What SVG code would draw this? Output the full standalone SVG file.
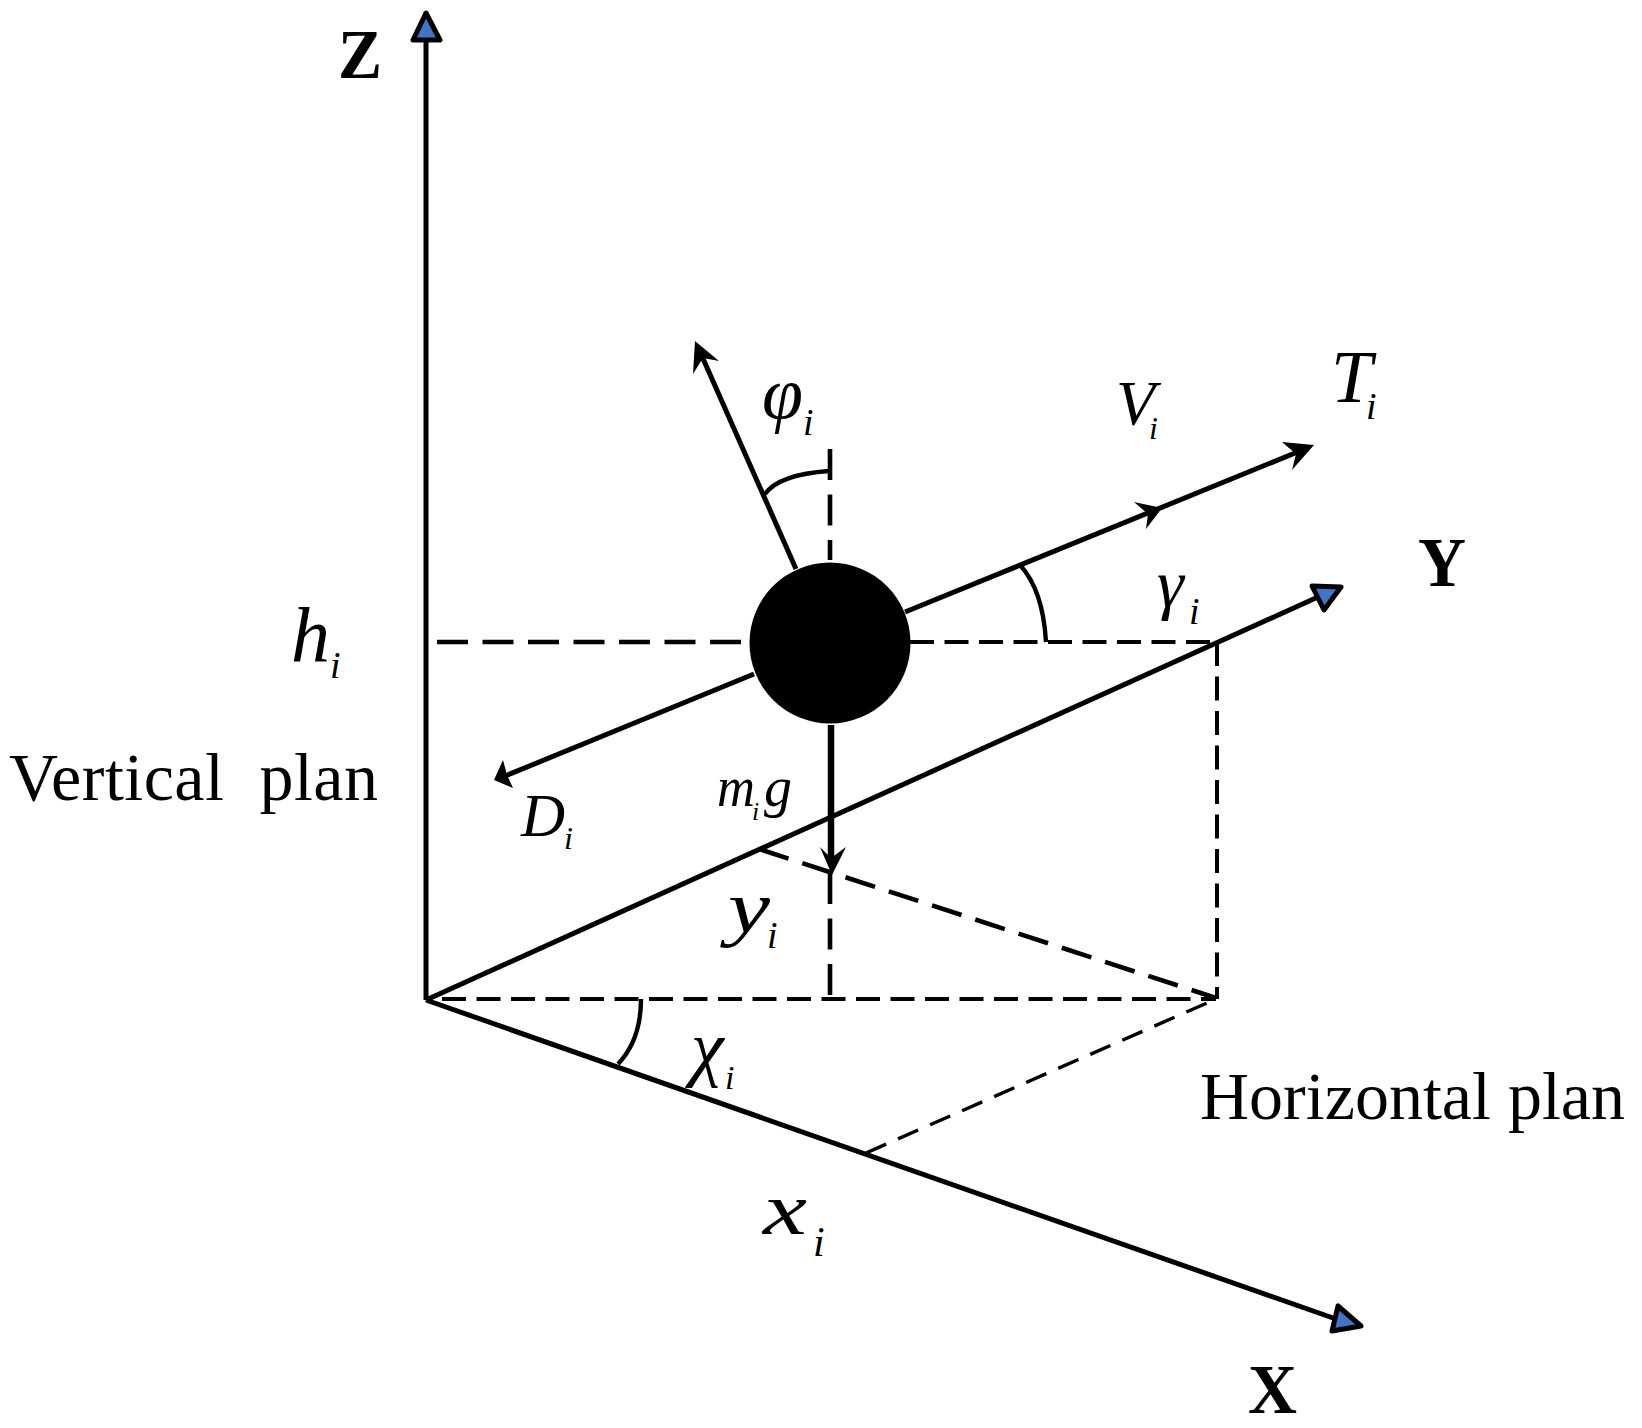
<svg xmlns="http://www.w3.org/2000/svg" width="1642" height="1428" viewBox="0 0 1642 1428">
<style>
.ax{stroke:#000;stroke-width:5;fill:none}
.arc{stroke:#000;stroke-width:4.4;fill:none}
.d1{stroke:#000;stroke-width:4.6;fill:none;stroke-dasharray:31 14.5}
.d2{stroke:#000;stroke-width:4;fill:none;stroke-dasharray:24 10.5}
.d3{stroke:#000;stroke-width:3.4;fill:none;stroke-dasharray:22 13}
.tip{fill:#4472C4;stroke:#000;stroke-width:5;stroke-linejoin:round}
.st{fill:#000;stroke:none}
text{font-family:"Liberation Serif","Times New Roman",serif;fill:#000}
.b{font-weight:bold;font-size:70px}
.i{font-style:italic}
.p{font-size:68px;white-space:pre}
</style>
<rect width="1642" height="1428" fill="#fff"/>
<g id="connectors">
<path class="ax" d="M426 1000V40"/>
<path class="ax" d="M426 1000L1318 597"/>
<path class="ax" d="M426 1000L1336 1319"/>
<path class="ax" d="M905 612L1300 451"/>
<path class="ax" d="M754 674L505 776"/>
<path class="ax" d="M796 569L701 354"/>
<path stroke="#000" stroke-width="6.5" fill="none" d="M831 725L831 860"/>
<path class="d1" d="M437 642H745"/>
<path class="d1" d="M830 449V560"/>
<path class="d1" d="M830 873V998"/>
<path class="d1" d="M759 849L1216 998"/>
<path class="d2" d="M442 999H1216"/>
<path class="d2" d="M910 642H1216"/>
<path class="d2" d="M1217 642V999"/>
<path class="d3" d="M866 1153L1216 999"/>
<path class="arc" d="M765 494C775 480 800 473 829 471"/>
<path class="arc" d="M1020 565Q1043 590 1046 642"/>
<path class="arc" d="M641 999Q641 1040 618 1064"/>
<polygon class="tip" points="426,13 440,40 413,40"/>
<polygon class="tip" points="1341,587 1312,586 1324,610"/>
<polygon class="tip" points="1361,1326 1338,1306 1332,1331"/>
<polygon class="st" points="1314,445 1282,442 1296,454 1292,470"/>
<polygon class="st" points="1162,508 1134,502 1148,514 1146,529"/>
<polygon class="st" points="494,780 503,760 507,775 513,788"/>
<polygon class="st" points="695,341 719,361 703,358 693,374"/>
<polygon class="st" points="832,875 820,847 831,858 846,847"/>
</g>
<g id="mass"><circle cx="830" cy="643" r="80.5" fill="#000"/></g>
<g id="labels">
<text id="label-z" class="b" x="338" y="78" textLength="44" lengthAdjust="spacingAndGlyphs">Z</text>
<text id="label-y" class="b" x="1418" y="586" textLength="48" lengthAdjust="spacingAndGlyphs">Y</text>
<text id="label-x" class="b" x="1248" y="1413" textLength="49" lengthAdjust="spacingAndGlyphs">X</text>
<g id="label-h" class="i"><text x="291" y="662" font-size="78">h</text><text x="330" y="678" font-size="38">i</text></g>
<g id="label-phi" class="i"><text x="762" y="418" font-size="74">φ</text><text x="803" y="435" font-size="38">i</text></g>
<g id="label-v" class="i"><text x="1116" y="425" font-size="64">V</text><text x="1149" y="439" font-size="32">i</text></g>
<g id="label-t" class="i"><text x="1331" y="402" font-size="74">T</text><text x="1366" y="419" font-size="38">i</text></g>
<g id="label-gamma" class="i"><text x="1157" y="607" font-size="68">γ</text><text x="1189" y="624" font-size="38">i</text></g>
<g id="label-d" class="i"><text x="521" y="836" font-size="61">D</text><text x="564" y="849" font-size="32">i</text></g>
<g id="label-mg" class="i"><text x="717" y="806" font-size="56" textLength="38" lengthAdjust="spacingAndGlyphs">m</text><text x="752" y="820" font-size="26">i</text><text x="764" y="806" font-size="56">g</text></g>
<g id="label-yi" class="i"><text x="728" y="932" font-size="74" textLength="42" lengthAdjust="spacingAndGlyphs">y</text><text x="767" y="948" font-size="38">i</text></g>
<g id="label-chi" class="i"><text x="691" y="1072" font-size="74">χ</text><text x="725" y="1089" font-size="34">i</text></g>
<g id="label-xi" class="i"><text x="763" y="1234" font-size="74" textLength="44" lengthAdjust="spacingAndGlyphs">x</text><text x="813" y="1256" font-size="42">i</text></g>
<text id="vertical-plan" class="p" x="9" y="800" textLength="369" lengthAdjust="spacing">Vertical  plan</text>
<text id="horizontal-plan" class="p" x="1200" y="1119" textLength="425" lengthAdjust="spacing">Horizontal plan</text>
</g>
</svg>
